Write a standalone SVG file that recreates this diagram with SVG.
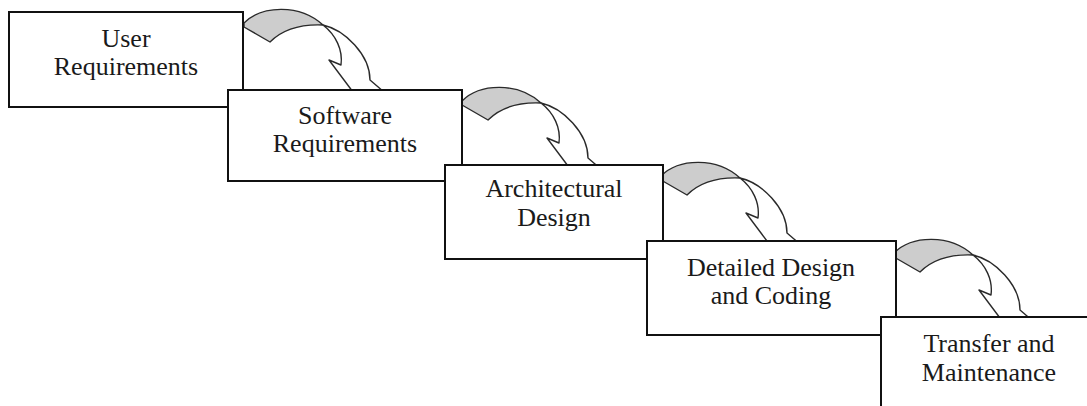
<svg xmlns="http://www.w3.org/2000/svg" width="1087" height="406" viewBox="0 0 1087 406">
  <style>
    .box { fill: #ffffff; stroke: #111111; stroke-width: 2; }
    .lbl { font-family: "Liberation Serif", "Times New Roman", serif; font-size: 26px; fill: #1a1a1a; text-anchor: middle; }
    .back { fill: #cdcdcd; stroke: #2a2a2a; stroke-width: 1.4; stroke-linejoin: round; }
    .front { fill: #ffffff; stroke: #2a2a2a; stroke-width: 1.4; stroke-linejoin: round; }
  </style>
  <defs>
    <!-- curled ribbon arrow: shaded back half, then white front half bending down into a head -->
    <g id="curl">
      <path class="back" d="M 244,23 C 262,5 300,4 323,25 C 300,24 282,30 270,42 L 244,27 Z"/>
      <path class="front" d="M 323,25 C 345,30 370,55 370,80 L 384,92 L 366,104 L 353,92 L 329,60 L 341,65 C 343,50 336,35 323,25 Z"/>
    </g>
  </defs>

  <g id="connectors">
    <use href="#curl"/>
    <use href="#curl" transform="translate(218,78)"/>
    <use href="#curl" transform="translate(417,153)"/>
    <use href="#curl" transform="translate(650,230)"/>
  </g>

  <g id="user-requirements">
    <rect class="box" x="9" y="12" width="234" height="95"/>
    <text class="lbl" x="126" y="47">User</text>
    <text class="lbl" x="126" y="75">Requirements</text>
  </g>

  <g id="software-requirements">
    <rect class="box" x="228" y="90" width="234" height="91"/>
    <text class="lbl" x="345" y="124">Software</text>
    <text class="lbl" x="345" y="152">Requirements</text>
  </g>

  <g id="architectural-design">
    <rect class="box" x="445" y="165" width="218" height="94"/>
    <text class="lbl" x="554" y="197">Architectural</text>
    <text class="lbl" x="554" y="226">Design</text>
  </g>

  <g id="detailed-design">
    <rect class="box" x="647" y="241" width="249" height="94"/>
    <text class="lbl" x="771" y="276">Detailed Design</text>
    <text class="lbl" x="771" y="304">and Coding</text>
  </g>

  <g id="transfer-maintenance">
    <rect class="box" x="881" y="317" width="230" height="110"/>
    <text class="lbl" x="989" y="352">Transfer and</text>
    <text class="lbl" x="989" y="381">Maintenance</text>
  </g>
</svg>
